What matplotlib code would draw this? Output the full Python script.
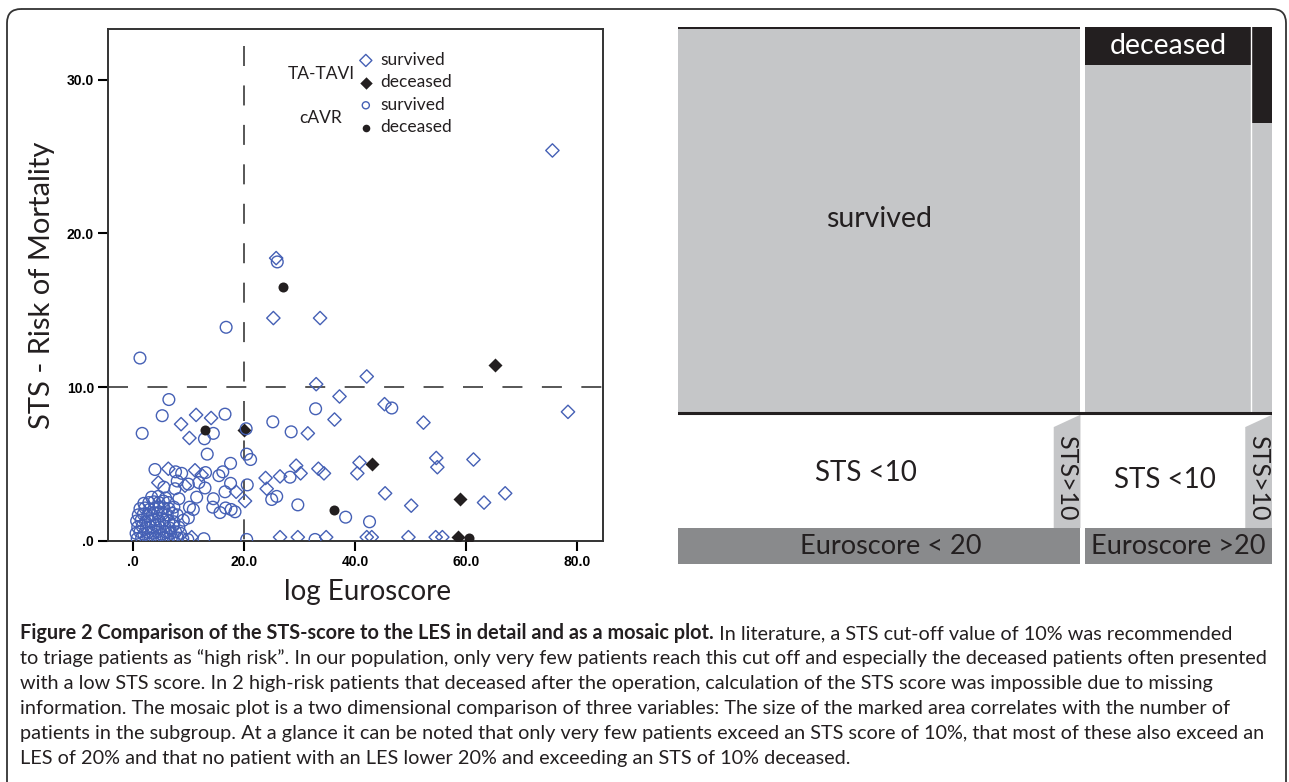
import matplotlib
matplotlib.use('Agg')
import matplotlib.pyplot as plt
from matplotlib.patches import Rectangle, Polygon, FancyBboxPatch

plt.rcParams['lines.scale_dashes'] = False

W, H = 1289, 782
BLUE = '#4560b5'
INK = '#231f20'

# --- scatter: log Euroscore (x) vs STS risk of mortality (y) ---
# TA-TAVI, survived
tavi_surv_les = [75.5, 25.8, 25.3, 33.7, 33.0, 42.1, 78.3, 37.2, 45.3, 36.3,
                 52.3, 31.5, 8.7, 11.4, 14.1, 10.2, 6.4, 4.6, 11.2, 12.4,
                 9.4, 18.6, 20.2, 23.9, 24.1, 26.5, 29.4, 30.2, 33.4, 34.4,
                 40.8, 40.4, 54.6, 54.8, 61.3, 45.4, 50.1, 63.2, 67.0,
                 26.5, 29.7, 34.8, 42.1, 43.0, 49.6, 54.5, 55.7, 10.6]
tavi_surv_sts = [25.4, 18.4, 14.5, 14.5, 10.2, 10.7, 8.4, 9.4, 8.9, 7.9,
                 7.7, 7.0, 7.6, 8.2, 8.0, 6.7, 4.7, 3.8, 4.6, 4.3,
                 3.6, 3.2, 2.6, 4.1, 3.4, 4.2, 4.9, 4.4, 4.7, 4.4,
                 5.1, 4.4, 5.4, 4.8, 5.3, 3.1, 2.3, 2.5, 3.1,
                 0.25, 0.25, 0.25, 0.25, 0.25, 0.25, 0.25, 0.25, 0.25]
# TA-TAVI, deceased
tavi_dead_les = [65.2, 43.0, 58.9, 58.6, 20.0]
tavi_dead_sts = [11.45, 5.0, 2.7, 0.25, 7.25]
# cAVR, survived
cavr_surv_les = [1.3, 16.8, 26.0, 6.5, 5.3, 1.7, 16.6, 14.5, 12.9, 13.4,
                 20.4, 25.2, 28.5, 32.9, 46.6, 20.5, 21.2, 17.6, 16.2, 15.5,
                 4.0, 7.7, 8.8, 13.1, 17.6, 20.6, 16.6, 14.5, 11.5, 14.4,
                 15.7, 16.7, 17.7, 18.4, 10.9, 10.2, 10.0, 9.1, 8.3, 7.3,
                 28.3, 25.0, 25.9, 29.7, 38.3, 42.6, 12.8, 20.5, 32.8, 8.0,
                 5.6, 7.6, 10.0, 11.9, 13.0,
                 0.8, 1.6, 2.4, 3.2, 4.0, 4.8, 5.6, 6.4, 7.3, 8.1, 9.0, 9.9,
                 0.6, 1.3, 2.0, 2.8, 3.6, 4.4, 5.2, 6.0, 6.8, 7.7, 8.6,
                 0.9, 1.7, 2.5, 3.3, 4.1, 4.9, 5.8, 6.6, 8.3,
                 0.7, 1.5, 2.3, 3.1, 4.0, 4.8, 5.6, 6.5, 7.4,
                 1.0, 1.9, 2.7, 3.5, 4.4, 5.3, 6.2, 7.1, 8.0,
                 1.3, 2.2, 3.0, 3.9, 4.7, 5.6, 6.5, 7.4,
                 2.0, 2.9, 3.8, 4.7, 5.5, 6.4,
                 3.4, 4.6, 5.9]
cavr_surv_sts = [11.9, 13.9, 18.15, 9.2, 8.15, 7.0, 8.25, 7.0, 6.65, 5.65,
                 7.3, 7.75, 7.1, 8.6, 8.65, 5.65, 5.3, 5.05, 4.5, 4.25,
                 4.65, 4.5, 4.4, 4.45, 3.75, 3.65, 3.2, 2.75, 2.85, 2.2,
                 1.85, 2.15, 2.05, 1.9, 2.05, 2.2, 1.5, 1.35, 2.75, 1.0,
                 4.15, 2.7, 2.9, 2.35, 1.55, 1.25, 0.15, 0.1, 0.1, 3.9,
                 3.5, 3.4, 3.7, 3.8, 3.45,
                 0.15, 0.2, 0.1, 0.2, 0.15, 0.1, 0.2, 0.15, 0.1, 0.2, 0.15, 0.1,
                 0.5, 0.6, 0.45, 0.55, 0.5, 0.6, 0.45, 0.55, 0.5, 0.6, 0.5,
                 0.9, 0.95, 0.85, 0.9, 1.0, 0.9, 0.95, 0.85, 0.9,
                 1.3, 1.35, 1.25, 1.3, 1.4, 1.3, 1.35, 1.3, 1.25,
                 1.7, 1.75, 1.65, 1.7, 1.8, 1.75, 1.7, 1.8, 1.7,
                 2.1, 2.15, 2.05, 2.1, 2.2, 2.15, 2.1, 2.2,
                 2.45, 2.5, 2.55, 2.5, 2.6, 2.5,
                 2.85, 2.9, 2.8]
# cAVR, deceased
cavr_dead_les = [27.0, 13.05, 36.2, 60.5]
cavr_dead_sts = [16.5, 7.2, 2.0, 0.18]

sts_cut = 10
les_cut = 20
x_ticks = [0, 20, 40, 60, 80]
x_tick_labels = ['.0', '20.0', '40.0', '60.0', '80.0']
y_ticks = [0, 10, 20, 30]
y_tick_labels = ['.0', '10.0', '20.0', '30.0']

# --- mosaic plot ---
euro_groups = ['Euroscore < 20', 'Euroscore >20']
euro_share = [0.683, 0.317]          # share of width per Euroscore group
sts_high_share = [0.062, 0.111]      # share of the group with STS > 10
dead_share_low = [0.0, 0.10]         # deceased share, STS < 10
dead_share_high = [0.0, 0.25]        # deceased share, STS > 10


def px_box(x0, y0, x1, y1):
    return [x0 / W, 1 - y1 / H, (x1 - x0) / W, (y1 - y0) / H]


fig = plt.figure(figsize=(W / 100, H / 100), dpi=100, facecolor='white')

# page overlay (border + caption), pixel coordinates
page = fig.add_axes([0, 0, 1, 1], zorder=0)
page.set_xlim(0, W)
page.set_ylim(H, 0)
page.set_axis_off()
page.add_patch(FancyBboxPatch((7, 9), 1279, 900, boxstyle='round,pad=0,rounding_size=14',
                              fill=False, lw=1.3, ec='#333333'))

# ---------------- scatter ----------------
ax = fig.add_axes(px_box(108, 29, 603, 541), zorder=2)
ax.set_xlim(-4.45, 84.6)
ax.set_ylim(0, 33.3)

ax.axhline(sts_cut, color='#3a3a3a', lw=1.2, dashes=(14.4, 14), zorder=1)
ax.plot([les_cut, les_cut], [0.967, 0], transform=ax.get_xaxis_transform(),
        color='#3a3a3a', lw=1.2, dashes=(14.4, 14), zorder=1)

s1 = ax.scatter(tavi_surv_les, tavi_surv_sts, marker='D', s=46, facecolors='none',
                edgecolors=BLUE, linewidths=1.0, zorder=2)
s2 = ax.scatter(tavi_dead_les, tavi_dead_sts, marker='D', s=51, color=INK,
                linewidths=0, zorder=3)
s3 = ax.scatter(cavr_surv_les, cavr_surv_sts, marker='o', s=71, facecolors='none',
                edgecolors=BLUE, linewidths=1.0, zorder=4)
s4 = ax.scatter(cavr_dead_les, cavr_dead_sts, marker='o', s=52, color=INK,
                linewidths=0, zorder=5)

ax.set_xticks(x_ticks, x_tick_labels)
ax.set_yticks(y_ticks, y_tick_labels)
ax.tick_params(direction='out', length=7, width=1.5, labelsize=10, pad=3, colors='black')
for lab in ax.get_xticklabels() + ax.get_yticklabels():
    lab.set_fontweight('bold')
    lab.set_family('Liberation Sans')
for sp in ax.spines.values():
    sp.set_linewidth(1.4)
    sp.set_color('#333333')

leg = ax.legend([s1, s2, s3, s4], ['survived', 'deceased', 'survived', 'deceased'],
                loc='upper left', bbox_to_anchor=(358 / W, 1 - 52 / H),
                bbox_transform=fig.transFigure, frameon=False,
                prop={'family': 'Lato', 'size': 12.5}, handlelength=0.9,
                handletextpad=0.4, labelspacing=0.37, borderpad=0, borderaxespad=0)
for h, sz in zip(leg.legend_handles, [38, 40, 26, 30]):
    h.set_sizes([sz])
for t in leg.get_texts():
    t.set_color(INK)

fig.text(321 / W, 1 - 74 / H, 'TA-TAVI', ha='center', va='center', family='Lato',
         fontsize=12.5, color=INK)
fig.text(321 / W, 1 - 118 / H, 'cAVR', ha='center', va='center', family='Lato',
         fontsize=12.5, color=INK)

fig.text(42 / W, 1 - 285 / H, 'STS - Risk of Mortality', rotation=90, ha='center',
         va='center', family='Lato', fontsize=21, color=INK)
fig.text(368 / W, 1 - 592 / H, 'log Euroscore', ha='center', va='center',
         family='Lato', fontsize=20, color=INK)

# ---------------- mosaic ----------------
GRAY = '#c5c6c8'
DARK = '#898a8c'
TOP, LINE_Y, LOW, BAND = 0.7165, 0.719, 0.933, 1.0
gap = 0.008
mos = fig.add_axes(px_box(678, 27, 1272, 564), zorder=2)
mos.set_xlim(0, 1)
mos.set_ylim(1, 0)
mos.set_axis_off()

x0 = 0.0
for i, grp in enumerate(euro_groups):
    w = euro_share[i] * (1 - gap)
    wh = w * sts_high_share[i]
    wl = w - wh
    cols = [(x0, wl, dead_share_low[i]), (x0 + wl, wh, dead_share_high[i])]
    for cx, cw, d in cols:
        mos.add_patch(Rectangle((cx, 0), cw, TOP, fc=GRAY, ec='none'))
        mos.add_patch(Rectangle((cx, 0), cw, max(d * TOP, 0.004), fc=INK, ec='none'))
    if max(dead_share_low[i], dead_share_high[i]) > 0:
        mos.plot([x0 + wl, x0 + wl], [0, TOP], color='white', lw=1.0)
    # lower block: STS > 10 tab
    tw = max(wh, 0.045)
    tx = x0 + w - tw
    mos.add_patch(Polygon([(tx, 0.745), (x0 + w, 0.722), (x0 + w, LOW), (tx, LOW)],
                          closed=True, fc=GRAY, ec='none'))
    mos.text(tx + tw / 2, (0.745 + LOW) / 2, 'STS>10', rotation=270, ha='center',
             va='center', family='Lato', fontsize=18, color=INK)
    mos.text(x0 + (w - tw) / 2, (LINE_Y + LOW) / 2 + 0.005 + 0.012 * i, 'STS <10',
             ha='center', va='center', family='Lato', fontsize=20, color=INK)
    # Euroscore band
    mos.add_patch(Rectangle((x0, LOW), w, BAND - LOW, fc=DARK, ec='none'))
    mos.text(x0 + w / 2 + (0.02 if i == 0 else 0), (LOW + BAND) / 2, grp, ha='center',
             va='center', family='Lato', fontsize=19.5, color=INK)
    if i == 0:
        mos.text(x0 + w / 2, TOP / 2, 'survived', ha='center', va='center',
                 family='Lato', fontsize=20.5, color=INK)
    else:
        mos.text(x0 + wl / 2, dead_share_low[i] * TOP / 2, 'deceased', ha='center',
                 va='center', family='Lato', fontsize=20.5, color='white')
    x0 += w + gap

mos.plot([0, 1], [LINE_Y, LINE_Y], color=INK, lw=2.2)

# ---------------- caption ----------------
bold_part = 'Figure 2 Comparison of the STS-score to the LES in detail and as a mosaic plot.'
lines = [
    ' In literature, a STS cut-off value of 10% was recommended',
    'to triage patients as \u201chigh risk\u201d. In our population, only very few patients reach this cut off and especially the deceased patients often presented',
    'with a low STS score. In 2 high-risk patients that deceased after the operation, calculation of the STS score was impossible due to missing',
    'information. The mosaic plot is a two dimensional comparison of three variables: The size of the marked area correlates with the number of',
    'patients in the subgroup. At a glance it can be noted that only very few patients exceed an STS score of 10%, that most of these also exceed an',
    'LES of 20% and that no patient with an LES lower 20% and exceeding an STS of 10% deceased.',
]
r = fig.canvas.get_renderer()
probe = page.text(20, 700, lines[1], family='Lato', fontsize=12)
cap_size = 12 * 1243 / probe.get_window_extent(r).width
probe.remove()

base = 639
tb = page.text(20, base, bold_part, family='Lato', fontweight='bold', fontsize=cap_size,
               color=INK, va='baseline')
bw = tb.get_window_extent(r).width
page.text(20 + bw, base, lines[0], family='Lato', fontsize=cap_size, color=INK, va='baseline')
for k, ln in enumerate(lines[1:], start=1):
    page.text(20, base + 25 * k, ln, family='Lato', fontsize=cap_size, color=INK,
              va='baseline')

fig.savefig('out.png', dpi=100, facecolor='white')
